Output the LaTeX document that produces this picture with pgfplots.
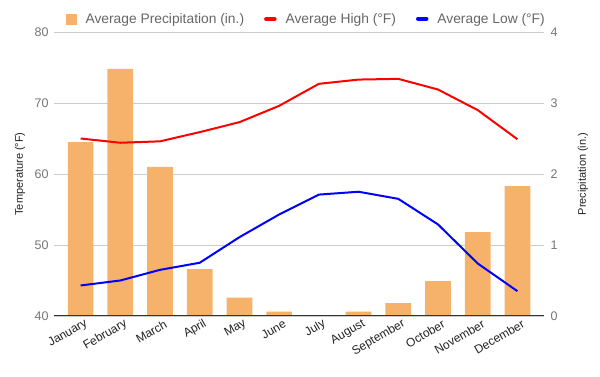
\documentclass[border=0pt]{standalone}
\usepackage{fontspec}
\setmainfont{Liberation Sans}
\usepackage{pgfplots}
\pgfplotsset{compat=1.18}
\definecolor{barc}{RGB}{246,178,107}
\definecolor{tickc}{RGB}{117,117,117}
\definecolor{gridc}{RGB}{204,204,204}
\definecolor{basec}{RGB}{51,51,51}
\definecolor{legc}{RGB}{102,102,102}
\definecolor{labc}{RGB}{34,34,34}
\begin{document}
\begin{tikzpicture}
\path[use as bounding box] (0pt,0pt) rectangle (600pt,377pt);
\begin{axis}[
  at={(54pt,61pt)}, anchor=south west, scale only axis, width=490pt, height=284pt,
  xmin=-0.67, xmax=11.67, ymin=0, ymax=4,
  ytick={0,1,2,3,4}, yticklabel pos=right,
  xtick={0,...,11},
  xticklabels={January,February,March,April,May,June,July,August,September,October,November,December},
  major tick length=0pt,
  axis line style={draw=none},
  ymajorgrids, grid style={gridc, line width=0.8pt},
  ybar, bar width=25.7pt,
  /pgf/number format/assume math mode=true,
  yticklabel style={font=\fontsize{12.5}{14}\selectfont, color=tickc, xshift=3pt},
  xticklabel style={font=\fontsize{12}{14}\selectfont, color=labc, rotate=30, anchor=east, xshift=5pt, yshift=-9pt},
  ylabel={Precipitation (in.)},
  every axis y label/.style={at={(axis description cs:1.0796,0.5)}, rotate=90, anchor=center, font=\fontsize{11}{13}\selectfont, color=labc},
]
\addplot[fill=barc, draw=none] coordinates {
(0,2.45) (1,3.48) (2,2.10) (3,0.66) (4,0.26) (5,0.06) (6,0.01) (7,0.06) (8,0.18) (9,0.49) (10,1.18) (11,1.83)};
\end{axis}
\begin{axis}[
  at={(54pt,61pt)}, anchor=south west, scale only axis, width=490pt, height=284pt,
  xmin=-0.67, xmax=11.67, ymin=40, ymax=80,
  ytick={40,50,60,70,80}, xtick=\empty,
  major tick length=0pt,
  axis line style={draw=none},
  /pgf/number format/assume math mode=true,
  yticklabel style={font=\fontsize{12.5}{14}\selectfont, color=tickc, xshift=-2pt},
  ylabel={Temperature (°F)},
  every axis y label/.style={at={(axis description cs:-0.0694,0.5)}, rotate=90, anchor=center, font=\fontsize{11}{13}\selectfont, color=labc},
  legend columns=3,
  legend style={draw=none, fill=none, inner sep=0pt, at={(axis description cs:0.0245,1.046)}, anchor=west,
    font=\fontsize{13.8}{15}\selectfont, text=legc,
    /tikz/every even column/.append style={column sep=18pt},
    /tikz/every odd column/.append style={column sep=7pt}},
]
\addlegendimage{legend image code/.code={\fill[barc] (0pt,-5pt) rectangle (10pt,5pt);}}
\addlegendentry{Average Precipitation (in.)}
\draw[basec, line width=1.2pt] (rel axis cs:0,0) -- (rel axis cs:1,0);
\addplot[red, line width=2pt, line join=round,
  legend image code/.code={\draw[red, line width=4.5pt, line cap=round] (2pt,0pt) -- (10pt,0pt);}] coordinates {
(0,65.0) (1,64.4) (2,64.6) (3,65.9) (4,67.3) (5,69.6) (6,72.7) (7,73.3) (8,73.4) (9,71.9) (10,69.0) (11,64.9)};
\addlegendentry{Average High (°F)}
\addplot[blue, line width=2pt, line join=round,
  legend image code/.code={\draw[blue, line width=4.5pt, line cap=round] (2pt,0pt) -- (10pt,0pt);}] coordinates {
(0,44.3) (1,45.0) (2,46.5) (3,47.5) (4,51.1) (5,54.3) (6,57.1) (7,57.5) (8,56.5) (9,52.9) (10,47.4) (11,43.5)};
\addlegendentry{Average Low (°F)}
\end{axis}
\end{tikzpicture}
\end{document}
